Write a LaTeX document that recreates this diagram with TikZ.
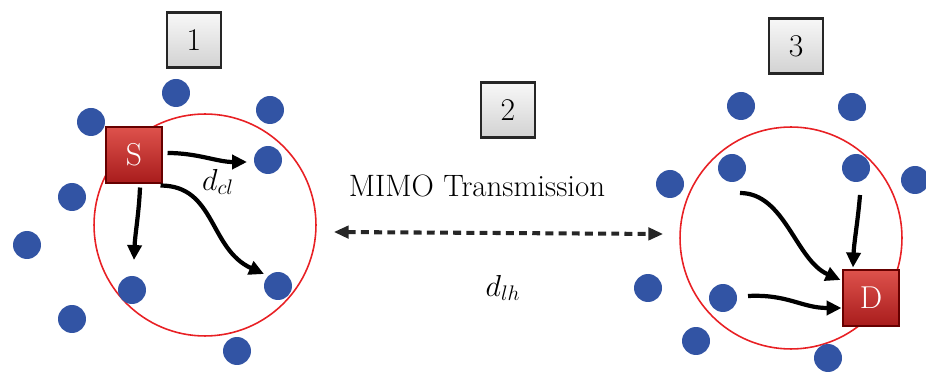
\documentclass[tikz,border=0pt]{standalone}
\usepackage{amsmath}
\usepackage{tikz}
\usetikzlibrary{
  arrows.meta,  % 三角箭头
  calc          % 坐标计算
}
\definecolor{dotblue}{RGB}{50,84,164}
\definecolor{ringred}{RGB}{232,32,36}
\tikzset{
  node dot/.style={
    circle,
    fill=dotblue,
    inner sep=0pt,
    minimum size=0.56cm
  },
  range ring/.style={
    circle,
    draw=ringred,
    line width=0.9pt,
    inner sep=0pt,
    minimum size=4.44cm
  },
  end box/.style={
    rectangle,
    draw=red!40!black,
    line width=0.6pt,
    top color={rgb,255:red,222;green,82;blue,76},
    bottom color={rgb,255:red,168;green,28;blue,28},
    text=white,
    inner sep=0pt,
    minimum size=1.12cm,
    font=\fontsize{18}{21}\selectfont
  },
  num box/.style={
    rectangle,
    draw=black!85,
    line width=1.4pt,
    top color=gray!6,
    bottom color=gray!35,
    inner sep=0pt,
    minimum width=1.08cm,
    minimum height=1.1cm,
    font=\fontsize{18}{21}\selectfont
  },
  label text/.style={
    font=\fontsize{17.6}{21}\selectfont
  },
  link/.style={
    -{Triangle[length=8.5pt,width=8pt]},
    line width=2.4pt,
    black
  },
  mimo link/.style={
    {Triangle[length=8.5pt,width=7pt]}-{Triangle[length=8.5pt,width=7pt]},
    line width=2.3pt,
    dash pattern=on 4.5pt off 3pt,
    black!85
  }
}

\begin{document}
\begin{tikzpicture}[x=0.02cm, y=-0.02cm, line width=0.8pt]
  \useasboundingbox (0,0) rectangle (926,374);

  % ======================= 源端簇 (1) =======================
  \node[range ring] (cellS) at (205,225) {};

  % 簇内节点
  \node[node dot] (l1) at (176,93) {};
  \node[node dot] (l2) at (270,110) {};
  \node[node dot] (l3) at (91,122) {};
  \node[node dot] (l4) at (268,160) {};
  \node[node dot] (l5) at (72,197) {};
  \node[node dot] (l6) at (27,245) {};
  \node[node dot] (l7) at (132,290) {};
  \node[node dot] (l8) at (278,286) {};
  \node[node dot] (l9) at (72,319) {};
  \node[node dot] (l10) at (237,351) {};

  % 源节点与编号
  \node[end box] (S) at (134,155) {S};
  \node[num box] (n1) at (194,40) {1};

  % 簇内链路
  \draw[link] ([shift={(5,-2)}]S.east) .. controls +(30,0) and +(-30,0) .. ([shift={(-21,2)}]l4.center);
  \draw[link] ([shift={(6,4)}]S.south) .. controls +(-1,25) and +(1,-25) .. ([shift={(2,-30)}]l7.center);
  \draw[link] ([shift={(-2,2)}]S.south east) .. controls +(55,0) and +(-55,-25) .. ([shift={(-14,-12)}]l8.center);
  \node[label text] (dcl) at (218,182) {$d_{cl}$};

  % ======================= 目的端簇 (3) =======================
  \node[range ring] (cellD) at (791,238) {};

  % 簇内节点
  \node[node dot] (r1) at (741,106) {};
  \node[node dot] (r2) at (852,107) {};
  \node[node dot] (r3) at (732,168) {};
  \node[node dot] (r4) at (670,184) {};
  \node[node dot] (r5) at (856,168) {};
  \node[node dot] (r6) at (915,180) {};
  \node[node dot] (r7) at (648,288) {};
  \node[node dot] (r8) at (723,298) {};
  \node[node dot] (r9) at (696,341) {};
  \node[node dot] (r10) at (828,358) {};

  % 目的节点与编号
  \node[end box] (D) at (871,298) {D};
  \node[num box] (n3) at (796,46) {3};

  % 汇聚链路
  \draw[link] ([shift={(8,25)}]r3.center) .. controls +(45,0) and +(-45,-20) .. ([shift={(-2,-18)}]D.west);
  \draw[link] ([shift={(4,27)}]r5.center) .. controls +(-2,25) and +(1,-25) .. ([shift={(-18,-2)}]D.north);
  \draw[link] ([shift={(25,-2)}]r8.center) .. controls +(40,-2) and +(-40,0) .. ([shift={(-1,10)}]D.west);

  % ======================= 簇间传输 (2) =======================
  \node[num box] (n2) at (508,110) {2};
  \node[label text] (mimo) at (477,186) {MIMO Transmission};
  \draw[mimo link] ([shift={(17,7)}]cellS.east) -- ([shift={(-16,-4)}]cellD.west);
  \node[label text] (dlh) at (503,288) {$d_{lh}$};

\end{tikzpicture}
\end{document}
